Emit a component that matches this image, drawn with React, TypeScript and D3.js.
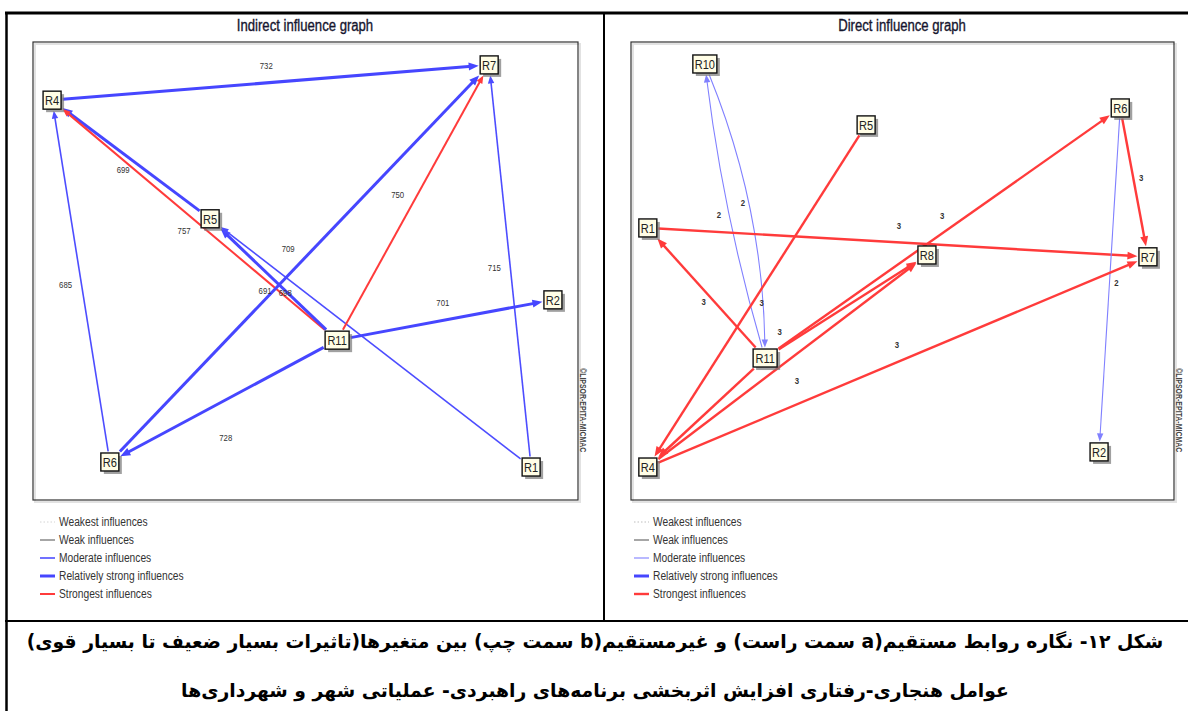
import React from "react";
import * as d3 from "d3";

// ---------- data ----------
// node layout in a normalized 0..100 space of each plot frame
const leftNodeNames = ["R7", "R4", "R5", "R11", "R2", "R6", "R1"];
const leftNodeX = [83.7, 3.5, 32.5, 55.8, 95.4, 14.1, 91.4];
const leftNodeY = [5.0, 12.7, 38.6, 65.1, 56.3, 91.7, 92.8];

const rightNodeNames = ["R10", "R5", "R6", "R1", "R8", "R7", "R11", "R4", "R2"];
const rightNodeX = [13.6, 43.3, 90.1, 3.1, 54.5, 95.2, 24.7, 3.1, 86.2];
const rightNodeY = [4.8, 18.1, 14.4, 40.6, 46.5, 46.9, 69.0, 92.8, 89.5];

// edges: source, target, value, influence class
const leftEdgeFrom = ["R4", "R5", "R11", "R6", "R11", "R1", "R6", "R11", "R1", "R11", "R11"];
const leftEdgeTo = ["R7", "R4", "R4", "R4", "R5", "R5", "R7", "R7", "R7", "R2", "R6"];
const leftEdgeValue = ["732", "699", "757", "685", "691", "698", "709", "750", "715", "701", "728"];
const leftEdgeClass = ["rel", "rel", "strongest", "moderate", "rel", "moderate", "rel", "strongest", "moderate", "rel", "rel"];
// label placement: fraction along edge and offset
const leftLabelT = [0.49, 0.55, 0.537, 0.49, 0.567, 0.766, 0.47, 0.53, 0.495, 0.49, 0.49];
const leftLabelDX = [0, 0, 0, -16, 0, 0, 0, -20, -16, 0, 0];
const leftLabelDY = [-17, 16, 19, 0, 19, 16, -27, 0, 0, -18, 38];

const rightEdgeFrom = ["R11", "R10", "R5", "R1", "R11", "R6", "R6", "R11", "R11", "R4", "R4", "R11"];
const rightEdgeTo = ["R10", "R11", "R4", "R7", "R6", "R7", "R2", "R1", "R8", "R8", "R7", "R4"];
const rightEdgeValue = ["2", "2", "3", "3", "3", "3", "2", "3", "3", "3", "3", ""];
const rightEdgeClass = ["moderate", "moderate", "strongest", "strongest", "strongest", "strongest", "moderate", "strongest", "strongest", "strongest", "strongest", "strongest"];
const rightEdgeCurve = [-6, -14, 0, 0, 0, 0, 0, 0, 0, 0, 0, 0];
const rightLabelT = [0.5, 0.5, 0.52, 0.502, 0.4986, 0.47, 0.509, 0.43, 0.09, 0.534, 0.498, 0.5];
const rightLabelDX = [-16, 8, 9, 0, 0, 8, 7, -11, 0, 0, 0, 0];
const rightLabelDY = [4, -8, 0, -17, -18, 0, 0, 0, -17, 27, -18, 0];

const legendLabels = [
  "Weakest influences",
  "Weak influences",
  "Moderate influences",
  "Relatively strong influences",
  "Strongest influences",
];
const legendClasses = ["weakest", "weak", "moderate", "rel", "strongest"];

const titles = ["Indirect influence graph", "Direct influence graph"];
const captionLines = [
  "شکل ۱۲- نگاره روابط مستقیم(a سمت راست) و غیرمستقیم(b سمت چپ) بین متغیرها(تاثیرات بسیار ضعیف تا بسیار قوی)",
  "عوامل هنجاری-رفتاری افزایش اثربخشی برنامه‌های راهبردی- عملیاتی شهر و شهرداری‌ها",
];
const creditText = "©LIPSOR-EPITA-MICMAC";

// ---------- styles ----------
const SANS = "'Liberation Sans', Arial, sans-serif";
const NARROW_SCALE = 0.82;
const RED = "#ff3b3b";
const BLUE = "#4646ff";

const leftStyle: Record<string, { color: string; width: number; dash?: string }> = {
  weakest: { color: "#d4d4d4", width: 1, dash: "1.5,2" },
  weak: { color: "#888", width: 1.5 },
  moderate: { color: "#4d4dff", width: 1.6 },
  rel: { color: BLUE, width: 3 },
  strongest: { color: RED, width: 2 },
};
const rightStyle: Record<string, { color: string; width: number; dash?: string }> = {
  weakest: { color: "#bdbdbd", width: 1, dash: "1.5,2" },
  weak: { color: "#888", width: 1.5 },
  moderate: { color: "#8080ff", width: 1.1 },
  rel: { color: BLUE, width: 3 },
  strongest: { color: RED, width: 2.4 },
};

type Pt = { x: number; y: number };

function NText(props: {
  x: number;
  y: number;
  size: number;
  anchor?: "start" | "middle" | "end";
  fill?: string;
  weight?: string;
  stroke?: string;
  children: React.ReactNode;
}) {
  return (
    <text
      transform={`translate(${props.x},${props.y}) scale(${NARROW_SCALE},1)`}
      textAnchor={props.anchor || "start"}
      dominantBaseline="central"
      fontFamily={SANS}
      fontSize={props.size}
      fontWeight={props.weight || "normal"}
      fill={props.fill || "#333"}
      stroke={props.stroke}
      strokeWidth={props.stroke ? 0.35 : undefined}
    >
      {props.children}
    </text>
  );
}

function boxSize(name: string) {
  return { w: 6 + name.length * 6, h: 18 };
}

function clipToBox(c: Pt, toward: Pt, name: string): Pt {
  const { w, h } = boxSize(name);
  const hw = w / 2 + 1.5;
  const hh = h / 2 + 1.5;
  const dx = toward.x - c.x;
  const dy = toward.y - c.y;
  const s = Math.min(dx === 0 ? Infinity : hw / Math.abs(dx), dy === 0 ? Infinity : hh / Math.abs(dy));
  return { x: c.x + dx * s, y: c.y + dy * s };
}

interface PanelProps {
  x0: number;
  x1: number;
  y0: number;
  y1: number;
  names: string[];
  nx: number[];
  ny: number[];
  from: string[];
  to: string[];
  values: string[];
  classes: string[];
  curves?: number[];
  lt: number[];
  ldx: number[];
  ldy: number[];
  styles: typeof leftStyle;
  labelBold: boolean;
}

function Panel(p: PanelProps) {
  const sx = d3.scaleLinear().domain([0, 100]).range([p.x0, p.x1]);
  const sy = d3.scaleLinear().domain([0, 100]).range([p.y0, p.y1]);
  const pos: Record<string, Pt> = {};
  p.names.forEach((n, i) => (pos[n] = { x: sx(p.nx[i]), y: sy(p.ny[i]) }));

  const edges = p.from.map((f, i) => {
    const a = pos[f];
    const b = pos[p.to[i]];
    const st = p.styles[p.classes[i]];
    const curve = p.curves ? p.curves[i] : 0;
    const mx = (a.x + b.x) / 2;
    const my = (a.y + b.y) / 2;
    const len = Math.hypot(b.x - a.x, b.y - a.y);
    const nxv = -(b.y - a.y) / len;
    const nyv = (b.x - a.x) / len;
    const ctrl = { x: mx + nxv * curve * 2, y: my + nyv * curve * 2 };
    const start = clipToBox(a, curve ? ctrl : b, f);
    const end = clipToBox(b, curve ? ctrl : a, p.to[i]);
    const ref = curve ? ctrl : start;
    const ul = Math.hypot(end.x - ref.x, end.y - ref.y);
    const ux = (end.x - ref.x) / ul;
    const uy = (end.y - ref.y) / ul;
    const L = st.width > 2 ? 10 : 8;
    const W = st.width > 2 ? 4 : 3.2;
    const lineEnd = { x: end.x - ux * L * 0.7, y: end.y - uy * L * 0.7 };
    const path = d3.path();
    path.moveTo(start.x, start.y);
    if (curve) path.quadraticCurveTo(ctrl.x, ctrl.y, lineEnd.x, lineEnd.y);
    else path.lineTo(lineEnd.x, lineEnd.y);
    const arrow = [
      [end.x, end.y],
      [end.x - ux * L - uy * W, end.y - uy * L + ux * W],
      [end.x - ux * L + uy * W, end.y - uy * L - ux * W],
    ]
      .map((q) => q.join(","))
      .join(" ");
    const t = p.lt[i];
    const lx = a.x + (b.x - a.x) * t + p.ldx[i];
    const ly = a.y + (b.y - a.y) * t + p.ldy[i];
    return { path: path.toString(), arrow, st, label: p.values[i], lx, ly, key: i };
  });

  return (
    <g>
      <rect x={p.x0 + 2} y={p.y0 + 2} width={p.x1 - p.x0} height={p.y1 - p.y0} fill="none" stroke="#e2e2e2" strokeWidth={2} />
      <rect x={p.x0} y={p.y0} width={p.x1 - p.x0} height={p.y1 - p.y0} fill="none" stroke="#333" strokeWidth={1.2} />
      {edges.map((e) => (
        <g key={e.key}>
          <path d={e.path} fill="none" stroke={e.st.color} strokeWidth={e.st.width} strokeDasharray={e.st.dash} />
          <polygon points={e.arrow} fill={e.st.color} />
        </g>
      ))}
      {edges.map((e) =>
        e.label ? (
          <NText key={"l" + e.key} x={e.lx} y={e.ly} size={9.5} anchor="middle" weight={p.labelBold ? "bold" : "normal"} fill="#333">
            {e.label}
          </NText>
        ) : null
      )}
      {p.names.map((n) => {
        const c = pos[n];
        const { w, h } = boxSize(n);
        return (
          <g key={n}>
            <rect x={c.x - w / 2 + 3} y={c.y - h / 2 + 3} width={w} height={h} fill="#777" opacity={0.7} />
            <rect x={c.x - w / 2} y={c.y - h / 2} width={w} height={h} fill="#fffde6" stroke="#111" strokeWidth={1.4} />
            <NText x={c.x} y={c.y + 0.5} size={13.5} anchor="middle" fill="#222">
              {n}
            </NText>
          </g>
        );
      })}
      <text
        transform={`translate(${p.x1 + 5},${p.y1 - 132}) rotate(90) scale(${NARROW_SCALE},1)`}
        fontFamily={SANS}
        fontSize={8.5}
        fontWeight="bold"
        fill="#444"
        dominantBaseline="central"
      >
        {creditText}
      </text>
    </g>
  );
}

function Legend({ x, y, styles }: { x: number; y: number; styles: typeof leftStyle }) {
  const sy = d3.scaleBand().domain(legendLabels).range([y, y + 90]);
  return (
    <g>
      {legendLabels.map((lab, i) => {
        const st = styles[legendClasses[i]];
        const yy = (sy(lab) as number) + sy.bandwidth() / 2;
        return (
          <g key={lab}>
            <line x1={x} x2={x + 15} y1={yy} y2={yy} stroke={st.color} strokeWidth={st.width} strokeDasharray={st.dash} />
            <NText x={x + 19} y={yy} size={12.5} fill="#333">
              {lab}
            </NText>
          </g>
        );
      })}
    </g>
  );
}

export default function App() {
  return (
    <svg width={1188} height={711} style={{ position: "absolute", left: 0, top: 0, background: "#fff" }}>
      <rect x={0} y={0} width={1188} height={711} fill="#fff" />
      {/* table borders */}
      <line x1={5} x2={1188} y1={13} y2={13} stroke="#000" strokeWidth={3} />
      <line x1={6.5} x2={6.5} y1={12} y2={711} stroke="#000" strokeWidth={2.5} />
      <line x1={604} x2={604} y1={13} y2={621} stroke="#000" strokeWidth={2} />
      <line x1={5} x2={1188} y1={621} y2={621} stroke="#000" strokeWidth={2} />

      {/* titles */}
      <NText x={305} y={26} size={16} anchor="middle" fill="#15152e" stroke="#15152e">
        {titles[0]}
      </NText>
      <NText x={902} y={26} size={16} anchor="middle" fill="#15152e" stroke="#15152e">
        {titles[1]}
      </NText>

      <Panel
        x0={33}
        x1={578}
        y0={42}
        y1={500}
        names={leftNodeNames}
        nx={leftNodeX}
        ny={leftNodeY}
        from={leftEdgeFrom}
        to={leftEdgeTo}
        values={leftEdgeValue}
        classes={leftEdgeClass}
        lt={leftLabelT}
        ldx={leftLabelDX}
        ldy={leftLabelDY}
        styles={leftStyle}
        labelBold={false}
      />
      <Panel
        x0={631}
        x1={1174}
        y0={42}
        y1={500}
        names={rightNodeNames}
        nx={rightNodeX}
        ny={rightNodeY}
        from={rightEdgeFrom}
        to={rightEdgeTo}
        values={rightEdgeValue}
        classes={rightEdgeClass}
        curves={rightEdgeCurve}
        lt={rightLabelT}
        ldx={rightLabelDX}
        ldy={rightLabelDY}
        styles={rightStyle}
        labelBold={true}
      />

      <Legend x={40} y={513} styles={leftStyle} />
      <Legend x={634} y={513} styles={rightStyle} />

      {/* caption */}
      <text x={595} y={641} textAnchor="middle" dominantBaseline="central" fontFamily="'DejaVu Sans', sans-serif" fontWeight="bold" fontSize={18.8} fill="#000" style={{ direction: "rtl", unicodeBidi: "embed" }}>
        {captionLines[0]}
      </text>
      <text x={595} y={690} textAnchor="middle" dominantBaseline="central" fontFamily="'DejaVu Sans', sans-serif" fontWeight="bold" fontSize={18.8} fill="#000" style={{ direction: "rtl", unicodeBidi: "embed" }}>
        {captionLines[1]}
      </text>
    </svg>
  );
}
